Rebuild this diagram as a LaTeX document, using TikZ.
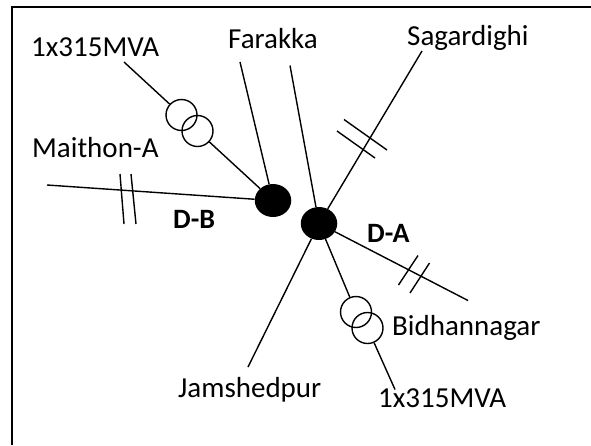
\documentclass[tikz,border=0pt]{standalone}
\usepackage{fontspec}
\setmainfont{Carlito}
\usetikzlibrary{shapes.geometric}
\tikzset{
  wire/.style={draw=black,line width=1.4pt},
  winding/.style={circle,draw=black,line width=1.4pt,minimum size=31pt,inner sep=0pt},
  bus/.style={ellipse,fill=black,minimum width=36.5pt,minimum height=33pt,inner sep=0pt},
  lbl/.style={font=\fontsize{29}{33}\selectfont,inner sep=0pt,anchor=base west,text=black},
  blbl/.style={font=\fontsize{28}{32}\selectfont\bfseries,inner sep=0pt,anchor=base west,text=black}
}
\begin{document}
\begin{tikzpicture}[x=1pt,y=-1pt]
\useasboundingbox (0,0) rectangle (591,445);
\draw[line width=2pt] (12,445) -- (12,7) -- (591,7);
\node[bus] (dB) at (273,200.5) {};
\node[bus] (dA) at (319,223.5) {};
\node[winding] (t1a) at (181.5,115) {};
\node[winding] (t1b) at (197.5,131) {};
\node[winding] (t2a) at (356,312) {};
\node[winding] (t2b) at (367.5,328) {};
\coordinate (c1) at (124,62);
\coordinate (far1) at (240,62);
\coordinate (far2) at (290,65.5);
\coordinate (sag) at (422,51);
\coordinate (mai) at (47,185);
\coordinate (bid) at (468,300.5);
\coordinate (jam) at (248,367);
\coordinate (c2) at (395,389.5);
\draw[wire] (c1) -- (t1a);
\draw[wire] (t1b) -- (dB);
\draw[wire] (far1) -- (dB);
\draw[wire] (mai) -- (dB);
\draw[wire] (far2) -- (dA);
\draw[wire] (sag) -- (dA);
\draw[wire] (bid) -- (dA);
\draw[wire] (jam) -- (dA);
\draw[wire] (dA) -- (t2a);
\draw[wire] (t2b) -- (c2);
\coordinate (h1a) at (120,174); \coordinate (h1b) at (124,224);
\coordinate (h2a) at (131,174); \coordinate (h2b) at (136,224);
\coordinate (h3a) at (344,119.5); \coordinate (h3b) at (387,150);
\coordinate (h4a) at (337,131); \coordinate (h4b) at (375,158);
\coordinate (h5a) at (398.5,285); \coordinate (h5b) at (418,255.5);
\coordinate (h6a) at (410,293); \coordinate (h6b) at (429.5,263);
\draw[wire] (h1a) -- (h1b);
\draw[wire] (h2a) -- (h2b);
\draw[wire] (h3a) -- (h3b);
\draw[wire] (h4a) -- (h4b);
\draw[wire] (h5a) -- (h5b);
\draw[wire] (h6a) -- (h6b);
\node[lbl] (l1) at (31,56) {1x315MVA};
\node[lbl] (l2) at (228,48) {Farakka};
\node[lbl] (l3) at (407,45) {Sagardighi};
\node[lbl] (l4) at (32,157) {Maithon-A};
\node[lbl] (l5) at (392,335) {Bidhannagar};
\node[lbl] (l6) at (178,397) {Jamshedpur};
\node[lbl] (l7) at (378,407) {1x315MVA};
\node[blbl] (l8) at (173,228) {D-B};
\node[blbl] (l9) at (367,242) {D-A};
\end{tikzpicture}
\end{document}
